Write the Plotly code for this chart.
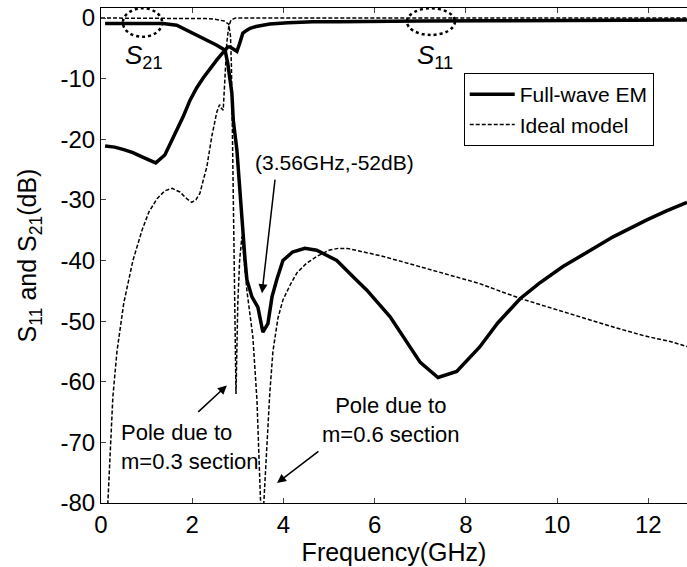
import plotly.graph_objects as go

# Full-wave EM, S11
fw_s11_f = [0.09, 0.3, 0.5, 0.7, 0.9, 1.05, 1.2, 1.4, 1.6, 1.8, 1.95, 2.1, 2.24, 2.4, 2.54, 2.65, 2.72, 2.78, 2.83, 2.9, 2.98, 3.04, 3.11, 3.2, 3.27, 3.4, 3.7, 4.1, 4.65, 5.2, 5.9, 7.0, 8.5, 10.0, 11.5, 12.85]
fw_s11_db = [-21.1, -21.3, -21.7, -22.2, -22.9, -23.4, -23.9, -22.6, -19.6, -16.3, -13.6, -11.5, -9.9, -8.2, -6.9, -5.9, -5.3, -4.8, -4.8, -5.1, -5.5, -4.2, -2.5, -2.0, -1.7, -1.4, -1.0, -0.8, -0.6, -0.6, -0.6, -0.5, -0.45, -0.4, -0.35, -0.35]

# Full-wave EM, S21
fw_s21_f = [0.09, 0.5, 1.0, 1.36, 1.66, 1.95, 2.24, 2.54, 2.72, 2.78, 2.87, 2.9, 2.98, 3.03, 3.09, 3.16, 3.2, 3.31, 3.44, 3.55, 3.66, 3.75, 3.86, 3.99, 4.2, 4.47, 4.73, 5.17, 5.6, 5.83, 6.34, 6.78, 7.0, 7.39, 7.8, 8.3, 8.7, 9.19, 9.6, 10.13, 10.7, 11.23, 11.97, 12.4, 12.85]
fw_s21_db = [-0.9, -0.9, -0.9, -0.9, -1.2, -2.3, -3.3, -4.5, -5.3, -7.5, -12.4, -16.8, -21.8, -27.2, -32.8, -40.0, -43.2, -46.0, -47.7, -51.8, -50.4, -46.0, -43.0, -40.0, -38.6, -38.0, -38.3, -40.0, -43.2, -44.9, -49.3, -54.3, -56.8, -59.3, -58.3, -54.3, -50.3, -46.3, -43.8, -41.0, -38.4, -36.1, -33.3, -31.8, -30.4]

# Ideal model, S11
id_s11_f = [0.05, 0.15, 0.26, 0.35, 0.5, 0.7, 0.9, 1.05, 1.23, 1.4, 1.56, 1.73, 1.88, 1.99, 2.08, 2.17, 2.25, 2.32, 2.43, 2.54, 2.6, 2.64, 2.68, 2.72, 2.76, 2.8, 2.85, 2.95, 3.3, 5.0, 8.0, 12.85]
id_s11_db = [-100, -80, -62.5, -55, -47, -40, -35, -32, -29.8, -28.5, -28.1, -28.7, -29.8, -30.4, -30.0, -28.9, -26.5, -24.6, -19.5, -15.5, -14.3, -14.9, -15.2, -10.0, -4.0, -1.5, -0.3, 0.0, 0.0, 0.0, 0.0, 0.0]

# Ideal model, S21
id_s21_f = [0.0, 0.5, 1.0, 1.5, 2.0, 2.3, 2.5, 2.6, 2.7, 2.76, 2.8, 2.84, 2.86, 2.88, 2.9, 2.93, 2.96, 3.0, 3.04, 3.09, 3.2, 3.33, 3.42, 3.5, 3.535, 3.57, 3.65, 3.7, 3.77, 3.88, 3.99, 4.15, 4.3, 4.5, 4.74, 5.0, 5.2, 5.4, 5.7, 6.12, 6.56, 7.2, 7.8, 8.3, 8.8, 9.25, 9.9, 10.5, 11.2, 11.9, 12.5, 12.85]
id_s21_db = [0.0, 0.0, 0.0, 0.0, -0.05, -0.1, -0.2, -0.3, -0.5, -0.8, -1.0, -3.0, -8.0, -18.0, -30.0, -45.0, -62.0, -47.0, -40.0, -36.0, -45.0, -52.6, -63.0, -80.0, -95.0, -80.0, -68.0, -62.0, -55.0, -49.5, -46.5, -44.0, -42.0, -40.5, -39.3, -38.3, -38.0, -38.0, -38.5, -39.2, -40.1, -41.5, -42.8, -43.8, -45.2, -46.4, -47.9, -49.3, -50.9, -52.4, -53.4, -54.2]

x_ticks = [0, 2, 4, 6, 8, 10, 12]
x_tick_labels = ["0", "2", "4", "6", "8", "10", "12"]
y_ticks = [-80, -70, -60, -50, -40, -30, -20, -10, 0]
y_tick_labels = ["-80", "-70", "-60", "-50", "-40", "-30", "-20", "-10", "0"]

FONT = "Liberation Sans, Arial, sans-serif"
fig = go.Figure()
fig.add_trace(go.Scatter(x=fw_s11_f, y=fw_s11_db, mode="lines", name="Full-wave EM",
                         line=dict(color="black", width=3.5), legendgroup="fw", showlegend=True))
fig.add_trace(go.Scatter(x=fw_s21_f, y=fw_s21_db, mode="lines", name="Full-wave EM",
                         line=dict(color="black", width=3.5), legendgroup="fw", showlegend=False))
fig.add_trace(go.Scatter(x=id_s11_f, y=id_s11_db, mode="lines", name="Ideal model",
                         line=dict(color="black", width=1.5, dash="4px,2px"), legendgroup="id", showlegend=True))
fig.add_trace(go.Scatter(x=id_s21_f, y=id_s21_db, mode="lines", name="Ideal model",
                         line=dict(color="black", width=1.5, dash="4px,2px"), legendgroup="id", showlegend=False))

fig.update_layout(
    width=687, height=567,
    margin=dict(l=101, r=0, t=8, b=64),
    paper_bgcolor="white", plot_bgcolor="white",
    font=dict(family=FONT, color="black", size=24),
    legend=dict(x=0.619, y=0.8687, xanchor="left", yanchor="top",
                bordercolor="black", borderwidth=1, bgcolor="white",
                font=dict(size=21), tracegroupgap=0, itemwidth=45),
    xaxis=dict(range=[0, 12.85], tickvals=x_ticks, ticktext=x_tick_labels, ticks="inside", ticklen=5,
               showline=True, linecolor="black", linewidth=1, mirror="ticks",
               showgrid=False, zeroline=False, tickfont=dict(size=24),
               title=dict(text="Frequency(GHz)", font=dict(size=25), standoff=0)),
    yaxis=dict(range=[-80, 1.65], tickvals=y_ticks, ticktext=y_tick_labels, ticks="inside", ticklen=5,
               showline=True, linecolor="black", linewidth=1,
               showgrid=False, zeroline=False, tickfont=dict(size=24),
               title=dict(text="S<sub>11</sub> and S<sub>21</sub>(dB)", font=dict(size=25), standoff=16)),
)

# dotted ellipses marking S21 and S11
fig.add_shape(type="circle", xref="x", yref="y", x0=0.48, x1=1.34, y0=-3.1, y1=1.6,
              line=dict(color="black", width=2.5, dash="dot"))
fig.add_shape(type="circle", xref="x", yref="y", x0=6.71, x1=7.76, y0=-2.8, y1=1.6,
              line=dict(color="black", width=2.5, dash="dot"))

fig.add_annotation(x=0.95, y=-6.3, xref="x", yref="y", text="<i>S</i><sub>21</sub>",
                   showarrow=False, font=dict(size=26))
fig.add_annotation(x=7.33, y=-6.3, xref="x", yref="y", text="<i>S</i><sub>11</sub>",
                   showarrow=False, font=dict(size=26))

fig.add_annotation(x=5.13, y=-23.9, xref="x", yref="y", text="(3.56GHz,-52dB)",
                   showarrow=False, font=dict(size=21))
fig.add_annotation(x=0.4, y=-70.7, xref="x", yref="y", text="Pole due to<br>m=0.3 section",
                   showarrow=False, xanchor="left", align="left", font=dict(size=22))
fig.add_annotation(x=6.36, y=-66.3, xref="x", yref="y", text="Pole due to<br>m=0.6 section",
                   showarrow=False, xanchor="center", align="center", font=dict(size=22))

for (hx, hy, tx, ty) in [(3.53, -45.4, 3.82, -26.4), (2.76, -60.6, 2.1, -65.2), (3.86, -76.7, 4.8, -71.3)]:
    fig.add_annotation(x=hx, y=hy, ax=tx, ay=ty, xref="x", yref="y", axref="x", ayref="y",
                       text="", showarrow=True, arrowhead=2, arrowsize=1.2, arrowwidth=1.5,
                       arrowcolor="black")

fig.write_html("out.html", config={"displayModeBar": False},
               post_script="document.body.style.margin='0px';")
